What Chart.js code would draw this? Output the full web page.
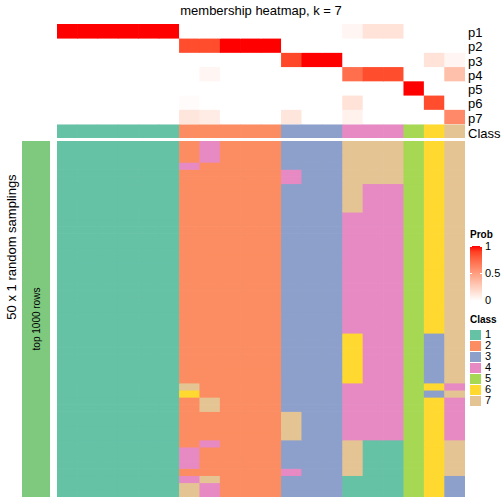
<!DOCTYPE html>
<html>
<head>
<meta charset="utf-8">
<script src="https://cdn.jsdelivr.net/npm/chart.js@4/dist/chart.umd.min.js"></script>
<style>
  body { margin: 0; background: #fff; font-family: "Liberation Sans", Arial, sans-serif; }
  #wrap { position: relative; width: 504px; height: 504px; overflow: hidden; }
  .abs { position: absolute; }
  canvas { display: block; }
  .rot { position: absolute; transform: translate(-50%, -50%) rotate(-90deg); white-space: nowrap; }
  .lg { position: absolute; font-size: 11px; color: #000; }
  .rl { position: absolute; left: 468px; font-size: 13px; line-height: 14px; color: #000; }
</style>
</head>
<body>
<div id="wrap">
  <div class="abs" style="left:57px;width:408px;top:3px;text-align:center;font-size:13px;">membership heatmap, k = 7</div>
  <div class="abs" style="left:57px;top:24px;width:408px;height:114px;"><canvas id="top"></canvas></div>
  <div class="abs" style="left:57px;top:141px;width:408px;height:356px;"><canvas id="main"></canvas></div>
  <div class="abs" style="left:22px;top:141px;width:28px;height:356px;background:#7FC97F;"></div>
  <div class="rot" style="left:36px;top:319px;font-size:10px;">top 1000 rows</div>
  <div class="rot" style="left:11px;top:247px;font-size:13px;">50 x 1 random samplings</div>
  <div id="rowlabels"></div>
  <div id="legend"></div>
</div>
<script>
// columns of the consensus partition, 20 samples
const sampleCount = 20
const probRows = ['p1', 'p2', 'p3', 'p4', 'p5', 'p6', 'p7']
const p1 = [1, 1, 1, 1, 1, 1, 0, 0, 0, 0, 0, 0, 0, 0, 0.05, 0.15, 0.15, 0, 0, 0]
const p2 = [0, 0, 0, 0, 0, 0, 0.85, 0.85, 1, 1, 1, 0, 0, 0, 0, 0, 0, 0, 0, 0]
const p3 = [0, 0, 0, 0, 0, 0, 0, 0, 0, 0, 0, 0.87, 1, 1, 0, 0, 0, 0, 0.15, 0.05]
const p4 = [0, 0, 0, 0, 0, 0, 0, 0.05, 0, 0, 0, 0, 0, 0, 0.72, 0.85, 0.85, 0, 0, 0.33]
const p5 = [0, 0, 0, 0, 0, 0, 0, 0, 0, 0, 0, 0, 0, 0, 0, 0, 0, 1, 0, 0]
const p6 = [0, 0, 0, 0, 0, 0, 0.02, 0, 0, 0, 0, 0, 0, 0, 0.15, 0, 0, 0, 0.85, 0]
const p7 = [0, 0, 0, 0, 0, 0, 0.13, 0.1, 0, 0, 0, 0.13, 0, 0, 0.07, 0, 0, 0, 0, 0.6]
const sampleClass = [1, 1, 1, 1, 1, 1, 2, 2, 2, 2, 2, 3, 3, 3, 4, 4, 4, 5, 6, 7]

const classLabels = ['1', '2', '3', '4', '5', '6', '7']
const classColors = ['#66C2A5', '#FC8D62', '#8DA0CB', '#E78AC3', '#A6D854', '#FFD92F', '#E5C494']

// 50 random samplings, one class per sample (string of 20 digits)
const samplings = [
  '11111124222333777567', '11111124222333777567', '11111124222333777567',
  '11111142222333777567', '11111122222433777567', '11111122222433777567',
  '11111122222333744567', '11111122222333744567', '11111122222333744567',
  '11111122222333744567',
  '11111122222333444567', '11111122222333444567', '11111122222333444567',
  '11111122222333444567', '11111122222333444567', '11111122222333444567',
  '11111122222333444567', '11111122222333444567', '11111122222333444567',
  '11111122222333444567', '11111122222333444567', '11111122222333444567',
  '11111122222333444567', '11111122222333444567', '11111122222333444567',
  '11111122222333444567', '11111122222333444567',
  '11111122222333644537', '11111122222333644537', '11111122222333644537',
  '11111122222333644537', '11111122222333644537', '11111122222333644537',
  '11111122222333644537',
  '11111172222333444564', '11111162222333444537',
  '11111127222333444564', '11111127222333444564',
  '11111122222733444564', '11111122222733444564', '11111122222733444564',
  '11111122222733444564',
  '11111124222333711567', '11111142222333711567', '11111142222333711567',
  '11111142222333711567', '11111122222433711567',
  '11111147222333111563', '11111174222333111563', '11111174222333111563'
]

// white -> red in LAB space
function toLin(c) { c /= 255; return c <= 0.04045 ? c / 12.92 : Math.pow((c + 0.055) / 1.055, 2.4) }
function fromLin(c) { c = c <= 0.0031308 ? 12.92 * c : 1.055 * Math.pow(c, 1 / 2.4) - 0.055; return Math.round(Math.max(0, Math.min(1, c)) * 255) }
function rgb2lab(r, g, b) {
  r = toLin(r); g = toLin(g); b = toLin(b)
  let x = (0.4124 * r + 0.3576 * g + 0.1805 * b) / 0.95047
  let y = 0.2126 * r + 0.7152 * g + 0.0722 * b
  let z = (0.0193 * r + 0.1192 * g + 0.9505 * b) / 1.08883
  const f = t => t > 0.008856 ? Math.cbrt(t) : 7.787 * t + 16 / 116
  x = f(x); y = f(y); z = f(z)
  return [116 * y - 16, 500 * (x - y), 200 * (y - z)]
}
function lab2rgb(L, a, bb) {
  const fy = (L + 16) / 116, fx = fy + a / 500, fz = fy - bb / 200
  const finv = t => t * t * t > 0.008856 ? t * t * t : (t - 16 / 116) / 7.787
  const x = 0.95047 * finv(fx), y = finv(fy), z = 1.08883 * finv(fz)
  const r = 3.2406 * x - 1.5372 * y - 0.4986 * z
  const g = -0.9689 * x + 1.8758 * y + 0.0415 * z
  const b = 0.0557 * x - 0.2040 * y + 1.0570 * z
  return 'rgb(' + fromLin(r) + ',' + fromLin(g) + ',' + fromLin(b) + ')'
}
const white = rgb2lab(255, 255, 255)
const red = rgb2lab(255, 0, 0)
function probColor(v) {
  return lab2rgb(white[0] + (red[0] - white[0]) * v, white[1] + (red[1] - white[1]) * v, white[2] + (red[2] - white[2]) * v)
}

const columns = Array.from({ length: sampleCount }, (_, i) => 's' + (i + 1))
Chart.defaults.font.family = '"Liberation Sans", Arial, sans-serif'

// top annotation: membership probabilities + class
const probData = [p1, p2, p3, p4, p5, p6, p7]
const topLabels = probRows.concat(['Class'])
const topSets = probData.map((vals, r) => ({
  data: vals.map(() => [r, r + 1]),
  backgroundColor: vals.map(probColor),
  grouped: false,
  barPercentage: 1,
  categoryPercentage: 1,
  borderWidth: 0
}))
topSets.push({
  data: sampleClass.map(() => [7.07, 8]),
  backgroundColor: sampleClass.map(c => classColors[c - 1]),
  grouped: false,
  barPercentage: 1,
  categoryPercentage: 1,
  borderWidth: 0
})

new Chart(document.getElementById('top'), {
  type: 'bar',
  data: { labels: columns, datasets: topSets },
  options: {
    responsive: true,
    maintainAspectRatio: false,
    animation: false,
    layout: { padding: 0 },
    plugins: { legend: { display: false }, tooltip: { enabled: false } },
    scales: {
      x: { display: false },
      y: { display: false, min: 0, max: topLabels.length, reverse: true }
    }
  }
})

// main body: class of every sample in every sampling
const mainSets = samplings.map((row, r) => ({
  data: row.split('').map(() => [r, r + 1]),
  backgroundColor: row.split('').map(c => classColors[Number(c) - 1]),
  grouped: false,
  barPercentage: 1,
  categoryPercentage: 1,
  borderWidth: 0
}))

new Chart(document.getElementById('main'), {
  type: 'bar',
  data: { labels: columns, datasets: mainSets },
  options: {
    responsive: true,
    maintainAspectRatio: false,
    animation: false,
    layout: { padding: 0 },
    plugins: { legend: { display: false }, tooltip: { enabled: false } },
    scales: {
      x: { display: false },
      y: { display: false, min: 0, max: samplings.length, reverse: true }
    }
  }
})

// row names on the right of the top annotation
let rl = ''
topLabels.forEach((l, i) => {
  const y = 24 + (i === 7 ? 7.07 : i) * 14.25 + 2
  rl += '<div class="rl" style="top:' + y + 'px;">' + l + '</div>'
})
document.getElementById('rowlabels').innerHTML = rl

// legends
const legend = document.getElementById('legend')
let html = '<div class="lg" style="left:470px;top:229px;font-weight:bold;font-size:10px;">Prob</div>'
const stops = []
for (let i = 0; i <= 10; i++) stops.push(probColor(1 - i / 10) + ' ' + (i * 10) + '%')
html += '<div class="abs" style="left:470px;top:246px;width:12px;height:55px;background:linear-gradient(' + stops.join(',') + ');"></div>'
html += '<div class="abs" style="left:470px;top:246px;width:2px;height:1px;background:#fff"></div><div class="abs" style="left:480px;top:246px;width:2px;height:1px;background:#fff"></div>'
html += '<div class="abs" style="left:470px;top:273px;width:2px;height:1px;background:#fff"></div><div class="abs" style="left:480px;top:273px;width:2px;height:1px;background:#fff"></div>'
html += '<div class="lg" style="left:485px;top:240px;">1</div>'
html += '<div class="lg" style="left:485px;top:267px;">0.5</div>'
html += '<div class="lg" style="left:485px;top:294px;">0</div>'
html += '<div class="lg" style="left:470px;top:314px;font-weight:bold;font-size:10px;">Class</div>'
classLabels.forEach((l, i) => {
  const y = 330 + i * 11
  html += '<div class="abs" style="left:470px;top:' + y + 'px;width:11px;height:10px;background:' + classColors[i] + '"></div>'
  html += '<div class="lg" style="left:485px;top:' + (y - 2) + 'px;">' + l + '</div>'
})
legend.innerHTML = html
</script>
</body>
</html>
